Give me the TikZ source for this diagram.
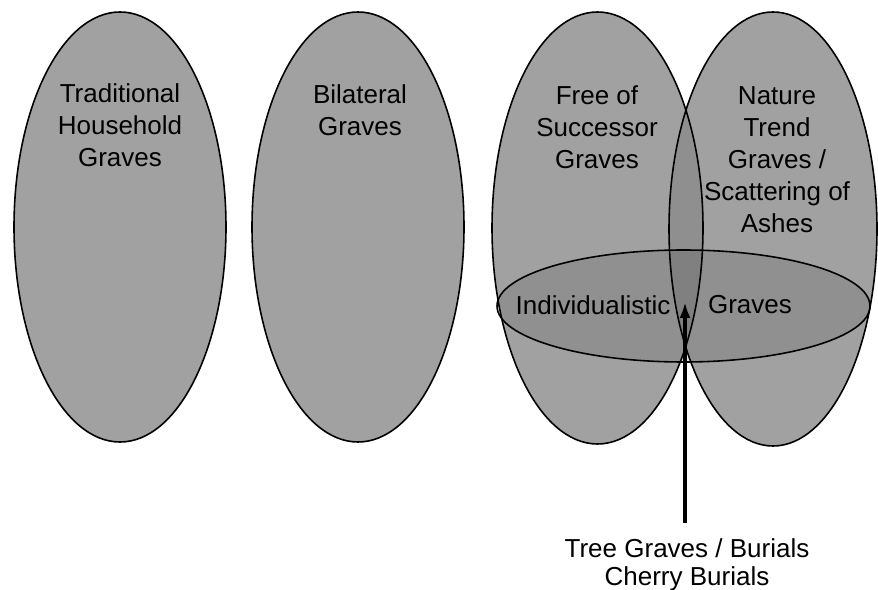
\documentclass[tikz,border=0pt]{standalone}
\usepackage{fontspec}
\setmainfont{Liberation Sans}
\usepackage{xcolor}
\usetikzlibrary{arrows.meta,positioning}

\begin{document}
\begin{tikzpicture}[x=0.02cm,y=-0.02cm,
  oval/.style={line width=0.9pt},
  lab/.style={align=center,inner sep=0pt,font=\fontsize{14.8}{18.2}\selectfont}]
\useasboundingbox (0,0) rectangle (878,590);
% grey ovals
\foreach \cx/\cy/\rx/\ry in {120/227/106/215,358/227/106/215,597.5/228/105.5/216,773/229/104/217}{
  \fill[black!37] (\cx,\cy) ellipse [x radius=\rx, y radius=\ry];
}
\begin{scope}
  \clip (597.5,228) ellipse [x radius=105.5, y radius=216];
  \fill[black!44] (773,229) ellipse [x radius=104, y radius=217];
\end{scope}
\fill[black,fill opacity=0.1] (683.5,306) ellipse [x radius=186.5, y radius=56];
\foreach \cx/\cy/\rx/\ry in {120/227/106/215,358/227/106/215,597.5/228/105.5/216,773/229/104/217,683.5/306/186.5/56}{
  \draw[oval] (\cx,\cy) ellipse [x radius=\rx, y radius=\ry];
}
% labels
\node[lab,anchor=north] (trad) at (120,83) {Traditional\\Household\\Graves};
\node[lab,anchor=north] (bilat) at (360,84) {Bilateral\\Graves};
\node[lab,anchor=north] (free) at (597,85) {Free of\\Successor\\Graves};
\node[lab,anchor=north] (nature) at (777,86) {Nature\\Trend\\Graves /\\Scattering of\\Ashes};
\node[lab] (indiv) at (593,305) {Individualistic};
\node[lab] (indivg) at (750,305) {Graves};
\node[lab,anchor=north,font=\fontsize{14.8}{16}\selectfont] (tree) at (687,538) {Tree Graves / Burials\\Cherry Burials};
\coordinate (tip) at (685,302);
\draw[-{Latex[length=3.2mm,width=2.2mm]},line width=1.9pt] (tree.north -| tip) ++(0,-15) -- (tip);
\end{tikzpicture}
\end{document}
